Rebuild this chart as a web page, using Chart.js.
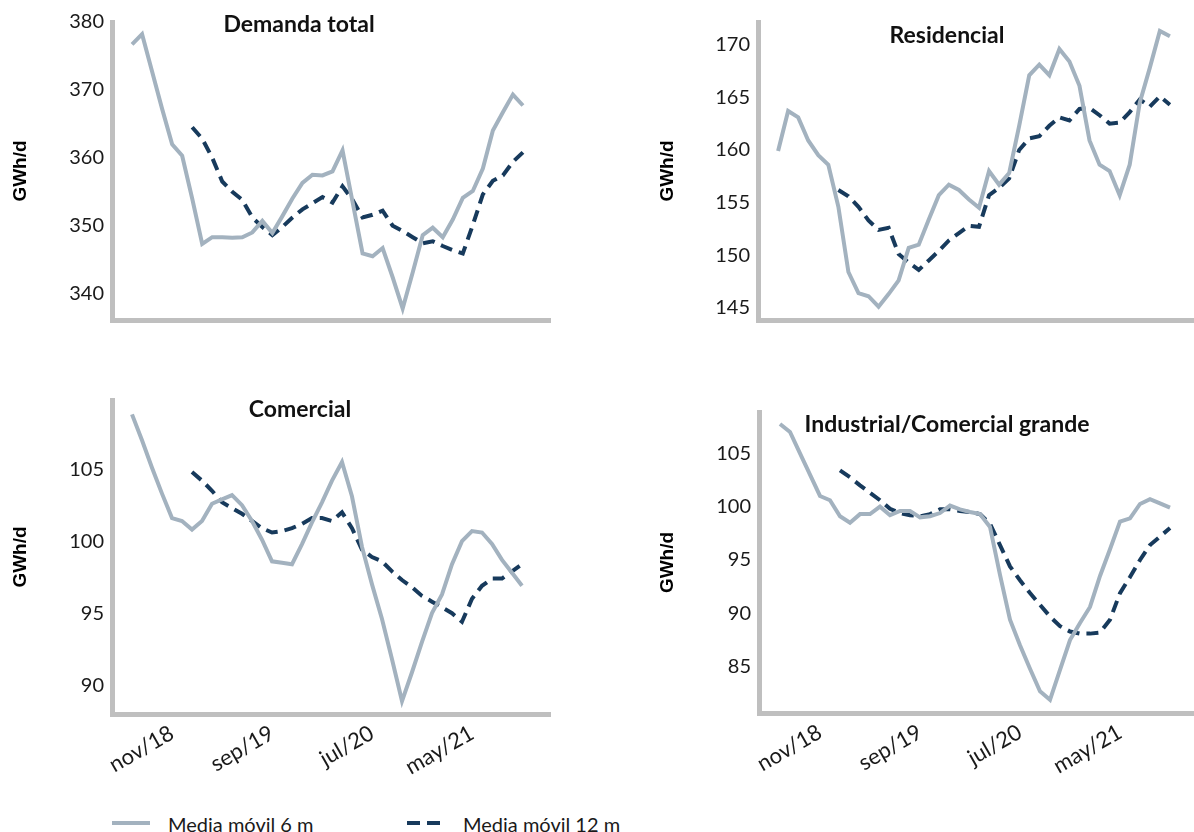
<!DOCTYPE html>
<html>
<head>
<meta charset="utf-8">
<script src="https://cdn.jsdelivr.net/npm/chart.js@4"></script>
<style>
html,body{margin:0;padding:0;background:#fff;}
body{width:1194px;height:832px;position:relative;overflow:hidden;}
canvas{position:absolute;}
.sw{position:absolute;height:4px;}
.lt{position:absolute;font:20px Lato, sans-serif;color:#1a1a1a;white-space:nowrap;line-height:20px;}
</style>
</head>
<body>
<canvas id="c1" style="left:0;top:0" width="560" height="340"></canvas>
<canvas id="c2" style="left:647px;top:0" width="547" height="340"></canvas>
<canvas id="c3" style="left:0;top:380px" width="560" height="420"></canvas>
<canvas id="c4" style="left:647px;top:380px" width="547" height="420"></canvas>

<div class="sw" style="left:112px;top:821px;width:38px;background:#a3b2bf"></div>
<div class="lt" style="left:168px;top:814px">Media móvil 6 m</div>
<div class="sw" style="left:407px;top:821px;width:13px;background:#173a5c"></div>
<div class="sw" style="left:427px;top:821px;width:13px;background:#173a5c"></div>
<div class="lt" style="left:463px;top:814px">Media móvil 12 m</div>

<script>
// ---- data ----
const months = ['jul/18','ago/18','sep/18','oct/18','nov/18','dic/18','ene/19','feb/19','mar/19','abr/19',
  'may/19','jun/19','jul/19','ago/19','sep/19','oct/19','nov/19','dic/19','ene/20','feb/20',
  'mar/20','abr/20','may/20','jun/20','jul/20','ago/20','sep/20','oct/20','nov/20','dic/20',
  'ene/21','feb/21','mar/21','abr/21','may/21','jun/21','jul/21','ago/21','sep/21','oct/21'];
const tickLabels = ['nov/18','sep/19','jul/20','may/21'];
const seriesNames = ['Media móvil 6 m','Media móvil 12 m'];
const panelTitles = ['Demanda total','Residencial','Comercial','Industrial/Comercial grande'];
const yTitle = 'GWh/d';

const totalMM6 = [376.7,378.2,372.7,367.2,362.0,360.3,354.0,347.3,348.3,348.3,348.2,348.3,349.0,350.7,348.9,351.4,354.0,356.3,357.5,357.4,358.0,361.1,353.5,345.9,345.5,346.7,342.4,337.8,343.1,348.6,349.7,348.3,350.9,354.1,355.1,358.4,364.0,366.7,369.3,367.7];
const totalMM12 = [null,null,null,null,null,null,364.5,362.8,360.0,356.5,355.0,353.8,351.2,349.8,348.6,349.8,351.2,352.4,353.3,354.2,353.4,355.8,353.8,351.2,351.6,352.2,350.0,349.2,348.3,347.4,347.7,347.0,346.4,345.9,350.1,354.6,356.6,357.4,359.4,360.8];

const resMM6 = [159.9,163.7,163.1,160.9,159.5,158.6,154.6,148.4,146.4,146.1,145.1,146.3,147.6,150.7,151.0,153.4,155.7,156.7,156.2,155.3,154.5,158.0,156.7,157.8,162.3,167.1,168.1,167.1,169.6,168.4,166.1,160.9,158.6,158.0,155.7,158.6,164.5,167.8,171.3,170.8];
const resMM12 = [null,null,null,null,null,null,156.2,155.6,154.6,153.3,152.4,152.6,150.1,149.3,148.6,149.5,150.4,151.4,152.1,152.8,152.7,155.7,156.4,157.3,160.0,161.1,161.3,162.3,163.1,162.8,163.9,164.0,163.3,162.5,162.6,163.6,164.8,164.1,165.1,164.3];

const comMM6 = [108.8,107.0,105.1,103.3,101.6,101.4,100.8,101.4,102.6,102.9,103.2,102.5,101.4,100.1,98.6,98.5,98.4,99.8,101.3,102.7,104.2,105.5,103.1,99.6,97.0,94.6,91.8,88.9,90.9,93.0,95.0,96.3,98.4,100.0,100.7,100.6,99.8,98.7,97.8,96.9];
const comMM12 = [null,null,null,null,null,null,104.8,104.2,103.5,102.7,102.3,101.9,101.4,100.9,100.6,100.7,100.9,101.2,101.6,101.6,101.4,102.0,100.9,99.4,98.9,98.6,97.9,97.3,96.8,96.2,95.8,95.4,95.0,94.4,96.0,96.9,97.4,97.4,97.9,98.4];

const indMM6 = [107.75,107.0,105.0,103.0,101.0,100.6,99.1,98.5,99.3,99.3,100.0,99.2,99.6,99.6,99.0,99.1,99.4,100.1,99.75,99.5,99.3,98.1,93.6,89.4,87.0,84.8,82.7,81.9,84.7,87.5,89.1,90.6,93.5,96.0,98.6,98.9,100.25,100.7,100.3,99.9];
const indMM12 = [null,null,null,null,null,null,103.4,102.75,102.0,101.3,100.6,99.8,99.4,99.2,99.1,99.3,99.75,99.75,99.6,99.5,99.3,98.4,96.4,94.4,93.1,91.9,90.8,89.7,88.8,88.3,88.1,88.1,88.2,89.4,91.9,93.4,95.0,96.4,97.2,98.0];

// ---- styling ----
const C6 = '#a3b2bf', C12 = '#173a5c', AXIS = '#bfbfbf', TXT = '#1a1a1a';

const titlePlugin = {
  id: 'panelTitle',
  afterDraw(chart, args, o) {
    const ctx = chart.ctx;
    ctx.save();
    ctx.font = 'bold 23px Lato, sans-serif';
    ctx.fillStyle = '#111';
    ctx.textAlign = 'center';
    ctx.textBaseline = 'alphabetic';
    ctx.fillText(o.text, o.x, o.y);
    ctx.restore();
  }
};

function toPts(arr) { return arr.map((v, i) => ({x: i, y: v})); }

function makeChart(id, mm6, mm12, cfg) {
  new Chart(document.getElementById(id), {
    type: 'line',
    data: {
      datasets: [
        {label: seriesNames[0], data: toPts(mm6), borderColor: C6, borderWidth: 4, pointRadius: 0, tension: 0, fill: false},
        {label: seriesNames[1], data: toPts(mm12), borderColor: C12, borderWidth: 4, borderDash: [12, 7], pointRadius: 0, tension: 0, fill: false}
      ]
    },
    options: {
      responsive: false,
      animation: false,
      events: [],
      layout: {padding: {left: 0, top: cfg.top, right: cfg.right, bottom: 0}},
      plugins: {
        legend: {display: false},
        tooltip: {enabled: false},
        panelTitle: {text: cfg.title, x: cfg.tx, y: cfg.ty}
      },
      scales: {
        x: {
          type: 'linear',
          min: cfg.xmin, max: cfg.xmax,
          grid: {display: false, drawTicks: false},
          border: {display: true, color: AXIS, width: 5},
          ticks: {
            display: cfg.showX, autoSkip: false, minRotation: 30, maxRotation: 30, padding: 6,
            font: {family: 'Lato', size: 22}, color: TXT,
            callback: (v) => months[v]
          },
          afterBuildTicks: (s) => { s.ticks = tickLabels.map(l => ({value: months.indexOf(l)})); },
          afterFit: (s) => { s.height = cfg.xh; }
        },
        y: {
          min: cfg.ymin, max: cfg.ymax,
          grid: {display: false, drawTicks: false},
          border: {display: true, color: AXIS, width: 5},
          ticks: {stepSize: cfg.step, includeBounds: false, padding: 8, font: {family: 'Lato', size: 20}, color: TXT},
          title: {display: true, text: yTitle, color: '#000', font: {family: 'Liberation Sans', weight: 'bold', size: 19}, padding: {top: 9, bottom: 0}},
          afterFit: (s) => { s.width = cfg.yw; }
        }
      }
    },
    plugins: [titlePlugin]
  });
}

makeChart('c1', totalMM6, totalMM12, {title: panelTitles[0], tx: 299, ty: 32, top: 22, right: 10, xh: 17, yw: 112, xmin: -2.0, xmax: 41.7, ymin: 336.1, ymax: 380.0, step: 10, showX: false});
makeChart('c2', resMM6, resMM12, {title: panelTitles[1], tx: 300, ty: 43, top: 22, right: 0, xh: 17, yw: 111, xmin: -2.0, xmax: 41.4, ymin: 143.84, ymax: 172.16, step: 5, showX: false});
makeChart('c3', comMM6, comMM12, {title: panelTitles[2], tx: 300, ty: 37, top: 17, right: 10, xh: 86, yw: 112, xmin: -2.0, xmax: 41.8, ymin: 88.0, ymax: 109.8, step: 5, showX: true});
makeChart('c4', indMM6, indMM12, {title: panelTitles[3], tx: 300, ty: 52, top: 32, right: 0, xh: 87, yw: 112, xmin: -2.1, xmax: 41.4, ymin: 80.66, ymax: 108.87, step: 5, showX: true});
</script>
</body>
</html>
